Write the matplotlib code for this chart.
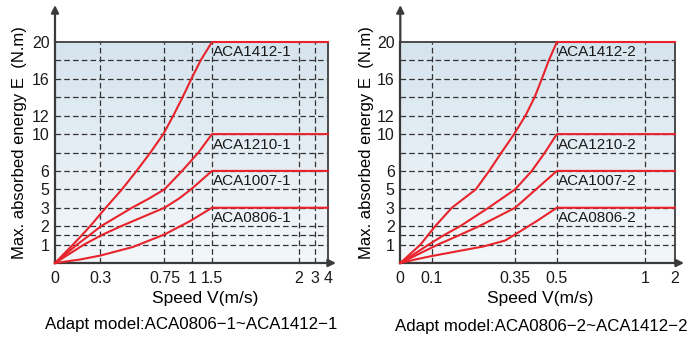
import numpy as np
import matplotlib.pyplot as plt
from matplotlib.colors import LinearSegmentedColormap

plt.rcParams['font.family'] = ['Liberation Sans', 'DejaVu Sans']

# ── Colours ───────────────────────────────────────────────────────────────────
RED = "#e8232b"
GRID = "#333333"
AXIS = "#3a3a3a"
BG_TOP = "#d6e4ee"
BG_BOT = "#f3f7fa"

# ── Energy axis (shared, uneven steps) ───────────────────────────────────────
E_STEPS = [0, 1, 2, 3, 5, 6, 8, 10, 12, 14, 16, 18, 20]
E_TICKS = [1, 2, 3, 5, 6, 10, 12, 16, 20]
E_GRID = [1, 1.5, 2, 3, 5, 6, 8, 10, 12, 14, 16, 18]

# ── Left chart: ACA....-1 ─────────────────────────────────────────────────────
V1_STEPS = [0, 0.3, 0.75, 1, 1.5, 2, 3, 4]
V1_POS = [0, 0.165, 0.401, 0.502, 0.575, 0.894, 0.952, 1.0]
V1_TICKS = [0, 0.3, 0.75, 1, 1.5, 2, 3, 4]
V1_LABELS = ["0", "0.3", "0.75", "1", "1.5", "2", "3", "4"]
V1_GRID = [0.3, 0.75, 1, 1.5, 2, 3]

names_1 = ["ACA1412-1", "ACA1210-1", "ACA1007-1", "ACA0806-1"]
v_1412_1 = [0, 0.12, 0.178, 0.234, 0.34, 0.453, 0.555, 0.652, 0.742, 0.83, 0.914, 0.994, 1.215, 1.5, 4]
e_1412_1 = [0, 1, 1.5, 2, 3, 5, 6, 8, 10, 12, 14, 16, 18, 20, 20]
v_1210_1 = [0, 0.147, 0.228, 0.307, 0.523, 0.642, 0.75, 0.91, 1.16, 1.5, 4]
e_1210_1 = [0, 1, 1.5, 2, 3, 4, 5, 6, 8, 10, 10]
v_1007_1 = [0, 0.193, 0.307, 0.447, 0.75, 0.882, 0.991, 1.5, 4]
e_1007_1 = [0, 1, 1.5, 2, 3, 4, 5, 6, 6]
v_0806_1 = [0, 0.16, 0.3, 0.53, 0.75, 0.98, 1.5, 4]
e_0806_1 = [0, 0.18, 0.4, 0.87, 1.55, 2.27, 3, 3]

# ── Right chart: ACA....-2 ────────────────────────────────────────────────────
V2_STEPS = [0, 0.1, 0.35, 0.5, 1, 2]
V2_POS = [0, 0.115, 0.418, 0.570, 0.891, 1.0]
V2_TICKS = [0, 0.1, 0.35, 0.5, 1, 2]
V2_LABELS = ["0", "0.1", "0.35", "0.5", "1", "2"]
V2_GRID = [0.1, 0.35, 0.5, 1]

names_2 = ["ACA1412-2", "ACA1210-2", "ACA1007-2", "ACA0806-2"]
v_1412_2 = [0, 0.064, 0.087, 0.11, 0.16, 0.232, 0.272, 0.309, 0.347, 0.387, 0.42, 0.446, 0.471, 0.5, 2]
e_1412_2 = [0, 1, 1.5, 2, 3, 5, 6, 8, 10, 12, 14, 16, 18, 20, 20]
v_1210_2 = [0, 0.09, 0.135, 0.185, 0.27, 0.35, 0.41, 0.457, 0.5, 2]
e_1210_2 = [0, 1, 1.5, 2, 3, 5, 6, 8, 10, 10]
v_1007_2 = [0, 0.118, 0.181, 0.242, 0.35, 0.425, 0.5, 2]
e_1007_2 = [0, 1, 1.5, 2, 3, 5, 6, 6]
v_0806_2 = [0, 0.05, 0.1, 0.255, 0.32, 0.35, 0.43, 0.5, 2]
e_0806_2 = [0, 0.2, 0.38, 0.9, 1.22, 1.55, 2.3, 3, 3]

Y_LABEL = "Max. absorbed energy E  (N.m)"
X_LABEL = "Speed V(m/s)"


def piecewise(steps, pos):
    fwd = lambda v: np.interp(v, steps, pos)
    inv = lambda p: np.interp(p, pos, steps)
    return fwd, inv


def draw_panel(ax, vsteps, vpos, vticks, vlabels, vgrid, curves, names, xarrow):
    ax.set_xscale("function", functions=piecewise(vsteps, vpos))
    ax.set_yscale("function", functions=piecewise(E_STEPS, np.linspace(0, 1, len(E_STEPS))))
    ax.set_xlim(vsteps[0], vsteps[-1])
    ax.set_ylim(0, 20)

    # background gradient
    grad = np.linspace(0, 1, 256).reshape(-1, 1)
    cmap = LinearSegmentedColormap.from_list("bg", [BG_BOT, BG_TOP])
    ax.imshow(grad, extent=[0, 1, 0, 1], transform=ax.transAxes, aspect="auto",
              origin="lower", cmap=cmap, zorder=0)

    for e in E_GRID:
        ax.axhline(e, color=GRID, lw=0.9, ls=(0, (4.5, 2.5)), zorder=1)
    for v in vgrid:
        ax.axvline(v, color=GRID, lw=0.9, ls=(0, (4.5, 2.5)), zorder=1)

    for (v, e), name in zip(curves, names):
        ax.plot(v, e, color=RED, lw=1.5, zorder=4, clip_on=False,
                solid_joinstyle="round")
        ax.annotate(name, xy=(v[-2], e[-2]), xytext=(1, -2.5), textcoords="offset points",
                    ha="left", va="top", fontsize=11, color="#1a1a1a", zorder=5)

    ax.set_xticks(vticks)
    ax.set_xticklabels(vlabels)
    ax.set_yticks(E_TICKS)
    ax.set_yticklabels([str(t) for t in E_TICKS])
    ax.minorticks_off()
    ax.tick_params(length=0, labelsize=11.5, colors="#1a1a1a")
    ax.tick_params(axis="x", pad=6)
    ax.tick_params(axis="y", pad=4)

    for side in ["top", "right"]:
        ax.spines[side].set_color("#4a4a4a")
        ax.spines[side].set_linewidth(1.4)
    for side in ["left", "bottom"]:
        ax.spines[side].set_color(AXIS)
        ax.spines[side].set_linewidth(1.6)

    # axis arrows
    ax.annotate("", xy=(0, 1.167), xytext=(0, 1), xycoords="axes fraction",
                arrowprops=dict(arrowstyle="-|>", color=AXIS, lw=1.6,
                                mutation_scale=11, shrinkA=0, shrinkB=0),
                annotation_clip=False)
    ax.annotate("", xy=(xarrow, 0), xytext=(1, 0), xycoords="axes fraction",
                arrowprops=dict(arrowstyle="-|>", color=AXIS, lw=1.6,
                                mutation_scale=11, shrinkA=0, shrinkB=0),
                annotation_clip=False)


fig = plt.figure(figsize=(6.89, 3.43), dpi=100)
W, H = 689, 343

ax1 = fig.add_axes([55 / W, (H - 263) / H, 273 / W, 221 / H])
ax2 = fig.add_axes([400.3 / W, (H - 263) / H, 274.7 / W, 221 / H])

draw_panel(ax1, V1_STEPS, V1_POS, V1_TICKS, V1_LABELS, V1_GRID,
           [(v_1412_1, e_1412_1), (v_1210_1, e_1210_1),
            (v_1007_1, e_1007_1), (v_0806_1, e_0806_1)],
           names_1, 1 + 8 / 273)
draw_panel(ax2, V2_STEPS, V2_POS, V2_TICKS, V2_LABELS, V2_GRID,
           [(v_1412_2, e_1412_2), (v_1210_2, e_1210_2),
            (v_1007_2, e_1007_2), (v_0806_2, e_0806_2)],
           names_2, 1 + 9 / 274.7)

# axis titles and captions (figure pixel positions)
fig.text(20 / W, 1 - 143 / H, Y_LABEL, rotation=90, ha="center", va="center", fontsize=12)
fig.text(366 / W, 1 - 143 / H, Y_LABEL, rotation=90, ha="center", va="center", fontsize=12)
fig.text(205 / W, 1 - 298 / H, X_LABEL, ha="center", va="center", fontsize=12.5)
fig.text(540 / W, 1 - 298 / H, X_LABEL, ha="center", va="center", fontsize=12.5)
fig.text(191 / W, 1 - 325 / H, "Adapt model:ACA0806\u22121~ACA1412\u22121",
         ha="center", va="center", fontsize=12.2)
fig.text(541 / W, 1 - 327 / H, "Adapt model:ACA0806\u22122~ACA1412\u22122",
         ha="center", va="center", fontsize=12.2)

fig.savefig("out.png", dpi=100)
